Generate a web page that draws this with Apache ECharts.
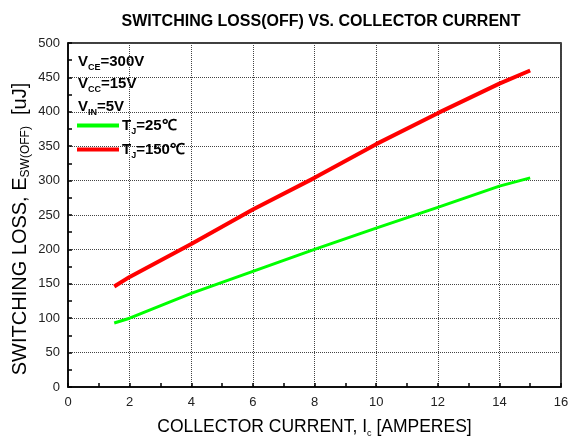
<!DOCTYPE html>
<html>
<head>
<meta charset="utf-8">
<script src="https://cdn.jsdelivr.net/npm/echarts@6/dist/echarts.min.js"></script>
<style>
  html, body { margin: 0; padding: 0; background: #fff; }
  #chart { width: 577px; height: 443px; }
</style>
</head>
<body>
<div id="chart"></div>
<script>
// collector current (A)
const current_x = [1.5, 2, 4, 6, 8, 10, 12, 14, 15];
// switching loss E_SW(OFF) (uJ)
const loss_tj25 = [93, 100, 136, 168, 200, 231, 261, 292, 304];
const loss_tj150 = [146, 160, 208, 258, 304, 353, 398, 441, 460];

const font = "Liberation Sans, Arial, sans-serif";

function pairs(xs, ys) {
  return xs.map((x, i) => [x, ys[i]]);
}

const myChart = echarts.init(document.getElementById("chart"));

myChart.setOption({
  animation: false,
  backgroundColor: "#fff",
  title: {
    text: "SWITCHING LOSS(OFF) VS. COLLECTOR CURRENT",
    left: 316,
    textAlign: "center",
    top: 9,
    textStyle: { fontFamily: font, fontSize: 16, fontWeight: "bold", color: "#000" }
  },
  grid: { left: 68, right: 16, top: 43, bottom: 55, show: true, borderColor: "#000", borderWidth: 1.5 },
  legend: {
    orient: "vertical",
    left: 77,
    top: 118,
    padding: 0,
    itemWidth: 42,
    itemHeight: 4,
    itemGap: 6,
    icon: "rect",
    data: ["TJ25", "TJ150"],
    formatter: function (name) {
      return name === "TJ25" ? "{b|T}{s|J}{b|=25℃}" : "{b|T}{s|J}{b|=150℃}";
    },
    textStyle: {
      padding: [0, 0, 0, -2],
      rich: {
        b: { fontFamily: font, fontSize: 15, fontWeight: "bold", color: "#000" },
        s: { fontFamily: font, fontSize: 9, fontWeight: "bold", color: "#000", padding: [12, 0, 0, 0] }
      }
    }
  },
  graphic: [
    {
      type: "text",
      left: 78,
      top: 51,
      style: {
        text: "{b|V}{s|CE}{b|=300V}\n{b|V}{s|CC}{b|=15V}\n{b|V}{s|IN}{b|=5V}",
        rich: {
          b: { fontFamily: font, fontSize: 15, fontWeight: "bold", fill: "#000", lineHeight: 22.5 },
          s: { fontFamily: font, fontSize: 9, fontWeight: "bold", fill: "#000", padding: [12, 0, 0, 0], lineHeight: 22.5 }
        }
      }
    },
    {
      type: "text",
      x: 20,
      y: 229,
      rotation: Math.PI / 2,
      style: {
        text: "{n|SWITCHING LOSS, E}{s|SW(OFF)}{n|  [uJ]}",
        align: "center",
        verticalAlign: "middle",
        rich: {
          n: { fontFamily: font, fontSize: 20, fill: "#000" },
          s: { fontFamily: font, fontSize: 12, fill: "#000", padding: [12, 0, 0, 0] }
        }
      }
    }
  ],
  xAxis: {
    type: "value",
    min: 0,
    max: 16,
    interval: 2,
    name: "{n|COLLECTOR CURRENT, I}{s|c}{n| [AMPERES]}",
    nameLocation: "middle",
    nameGap: 30,
    nameTextStyle: {
      rich: {
        n: { fontFamily: font, fontSize: 17.5, color: "#000" },
        s: { fontFamily: font, fontSize: 9, color: "#000", padding: [12, 0, 0, 0] }
      }
    },
    axisLine: { show: true, lineStyle: { color: "#000", width: 1.5 } },
    axisTick: { show: true, inside: true, length: 4, lineStyle: { color: "#000", width: 1.5 } },
    minorTick: { show: true, splitNumber: 2, length: 4, lineStyle: { color: "#000", width: 1.5 } },
    axisLabel: { fontFamily: font, fontSize: 13, color: "#222", margin: 9 },
    splitLine: { show: true, lineStyle: { color: "#444", type: "dotted", width: 1 } }
  },
  yAxis: {
    type: "value",
    min: 0,
    max: 500,
    interval: 50,
    axisLine: { show: true, lineStyle: { color: "#000", width: 1.5 } },
    axisTick: { show: true, inside: true, length: 4, lineStyle: { color: "#000", width: 1.5 } },
    minorTick: { show: true, splitNumber: 2, length: 4, lineStyle: { color: "#000", width: 1.5 } },
    axisLabel: { fontFamily: font, fontSize: 13, color: "#222", margin: 8 },
    splitLine: { show: true, lineStyle: { color: "#444", type: "dotted", width: 1 } }
  },
  series: [
    {
      name: "TJ25",
      type: "line",
      data: pairs(current_x, loss_tj25),
      showSymbol: false,
      symbol: "none",
      color: "#00ff00",
      lineStyle: { color: "#00ff00", width: 3 }
    },
    {
      name: "TJ150",
      type: "line",
      data: pairs(current_x, loss_tj150),
      showSymbol: false,
      symbol: "none",
      color: "#ff0000",
      lineStyle: { color: "#ff0000", width: 4 }
    }
  ]
});
</script>
</body>
</html>
